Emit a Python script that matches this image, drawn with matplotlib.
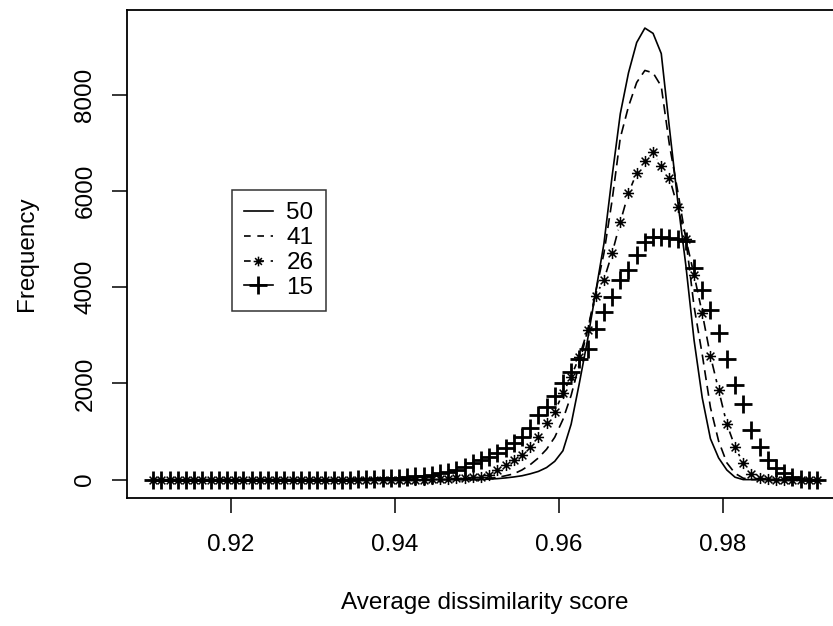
import numpy as np
import matplotlib
matplotlib.use('Agg')
import matplotlib.pyplot as plt
from matplotlib.path import Path
from matplotlib.lines import Line2D
from matplotlib.collections import LineCollection

plt.rcParams['font.family'] = ['Liberation Sans', 'DejaVu Sans']

# bin centres of the average dissimilarity score
score = np.linspace(0.9105, 0.9915, 82)

# frequency per bin for each group size
freq_50 = [0] * 41 + [
    10, 20, 35, 55, 80, 120, 170, 250, 380, 600,
    1150, 2000, 2900, 3900, 4900, 6300, 7600, 8450, 9080, 9380,
    9270, 8850, 7300, 5800, 4450, 2900, 1700, 850, 450, 200,
    50] + [0] * 10

freq_41 = [0] * 40 + [
    10, 25, 45, 80, 120, 200, 310, 450, 630, 880,
    1250, 1750, 2400, 3100, 3900, 4700, 5800, 7100, 7750, 8250,
    8500, 8450, 8170, 6950, 6000, 5000, 3600, 2600, 1500, 800,
    350, 130, 30] + [0] * 9

freq_26 = [0] * 34 + [
    10, 15, 20, 25, 35, 45, 60, 94, 198, 302,
    406, 510, 683, 892, 1170, 1412, 1795, 2140, 2550, 3100,
    3820, 4150, 4700, 5350, 5955, 6370, 6612, 6800, 6510, 6267,
    5663, 5000, 4255, 3458, 2570, 1862, 1155, 683, 337, 114,
    25, 10] + [0] * 6

freq_15 = [0] * 25 + [
    10, 15, 20, 25, 30, 40, 50, 65, 80, 100,
    130, 160, 200, 266, 337, 400, 475, 560, 649, 753,
    891, 1065, 1342, 1515, 1740, 2000, 2243, 2500, 2710, 3130,
    3490, 3790, 4150, 4360, 4670, 4930, 5050, 5040, 5020, 5000,
    4960, 4394, 3930, 3527, 3042, 2500, 1966, 1571, 1030, 670,
    406, 233, 141, 58, 10, 0, 0]

group_labels = ['50', '41', '26', '15']
x_ticks = [0.92, 0.94, 0.96, 0.98]
y_ticks = [0, 2000, 4000, 6000, 8000]

# R pch=8 style asterisk
star = Path([(-1, 0), (1, 0), (0, -1), (0, 1),
             (-0.7, -0.7), (0.7, 0.7), (-0.7, 0.7), (0.7, -0.7)],
            [Path.MOVETO, Path.LINETO] * 4)

DASH = (0, (6, 3.5))
LW = 1.2
FS = 17.5


def r_range(lo, hi):
    '''Axis range with R's 4% padding.'''
    pad = 0.04 * (hi - lo)
    return lo - pad, hi + pad


def gapped_segments(ax, x, y, gap):
    '''Segments between points, shortened at each end (like R type="b").'''
    pts = ax.transData.transform(np.column_stack([x, y]))
    inv = ax.transData.inverted()
    segs = []
    for p0, p1 in zip(pts[:-1], pts[1:]):
        d = p1 - p0
        length = np.hypot(d[0], d[1])
        if length > 2 * gap:
            u = d / length
            segs.append(inv.transform([p0 + u * gap, p1 - u * gap]))
    return segs


fig = plt.figure(figsize=(8.33, 6.26), dpi=100)
ax = fig.add_axes([0.1521, 0.205, 0.8605, 0.779])

all_freq = np.concatenate([freq_50, freq_41, freq_26, freq_15])
ax.set_xlim(*r_range(score.min(), score.max()))
ax.set_ylim(*r_range(all_freq.min(), all_freq.max()))

ax.plot(score, freq_50, color='black', lw=LW, solid_joinstyle='round')
ax.plot(score, freq_41, color='black', lw=LW, linestyle=DASH)

segs = gapped_segments(ax, score, freq_26, gap=8)
ax.add_collection(LineCollection(segs, colors='black', linewidths=LW,
                                 linestyles=[DASH]))
ax.plot(score, freq_26, linestyle='none', marker=star, ms=8,
        mew=1.1, color='black', fillstyle='none')
ax.plot(score, freq_15, linestyle='none', marker='+', ms=13,
        mew=2.0, color='black')

ax.set_xticks(x_ticks)
ax.set_xticklabels([f'{t:.2f}' for t in x_ticks])
ax.set_yticks(y_ticks)
ax.set_yticklabels([str(t) for t in y_ticks], rotation=90, va='center')
ax.tick_params(direction='out', length=10.8, width=1.1, labelsize=FS,
               color='black')
ax.tick_params(axis='x', pad=15)
ax.tick_params(axis='y', pad=11)

for sp in ax.spines.values():
    sp.set_linewidth(1.3)

ax.set_xlabel('Average dissimilarity score', fontsize=FS, labelpad=26)
ax.set_ylabel('Frequency', fontsize=FS, labelpad=26)

handles = [
    Line2D([], [], color='black', lw=LW),
    Line2D([], [], color='black', lw=LW, linestyle=(0, (4, 4))),
    Line2D([], [], color='black', lw=LW, linestyle=(0, (4, 4)),
           marker=star, ms=7, mew=1.1, fillstyle='none'),
    Line2D([], [], color='black', lw=LW, marker='+', ms=13, mew=2.0),
]
leg = ax.legend(handles, group_labels, loc='upper left',
                bbox_to_anchor=(231.7 / 833, 1 - 190 / 626),
                bbox_transform=fig.transFigure, borderaxespad=0,
                fontsize=FS, frameon=True, fancybox=False,
                borderpad=0.5, labelspacing=0.12, handlelength=1.2,
                handletextpad=0.55, numpoints=1)
leg.get_frame().set_edgecolor('black')
leg.get_frame().set_linewidth(1.1)

fig.savefig('out.png', dpi=100)
